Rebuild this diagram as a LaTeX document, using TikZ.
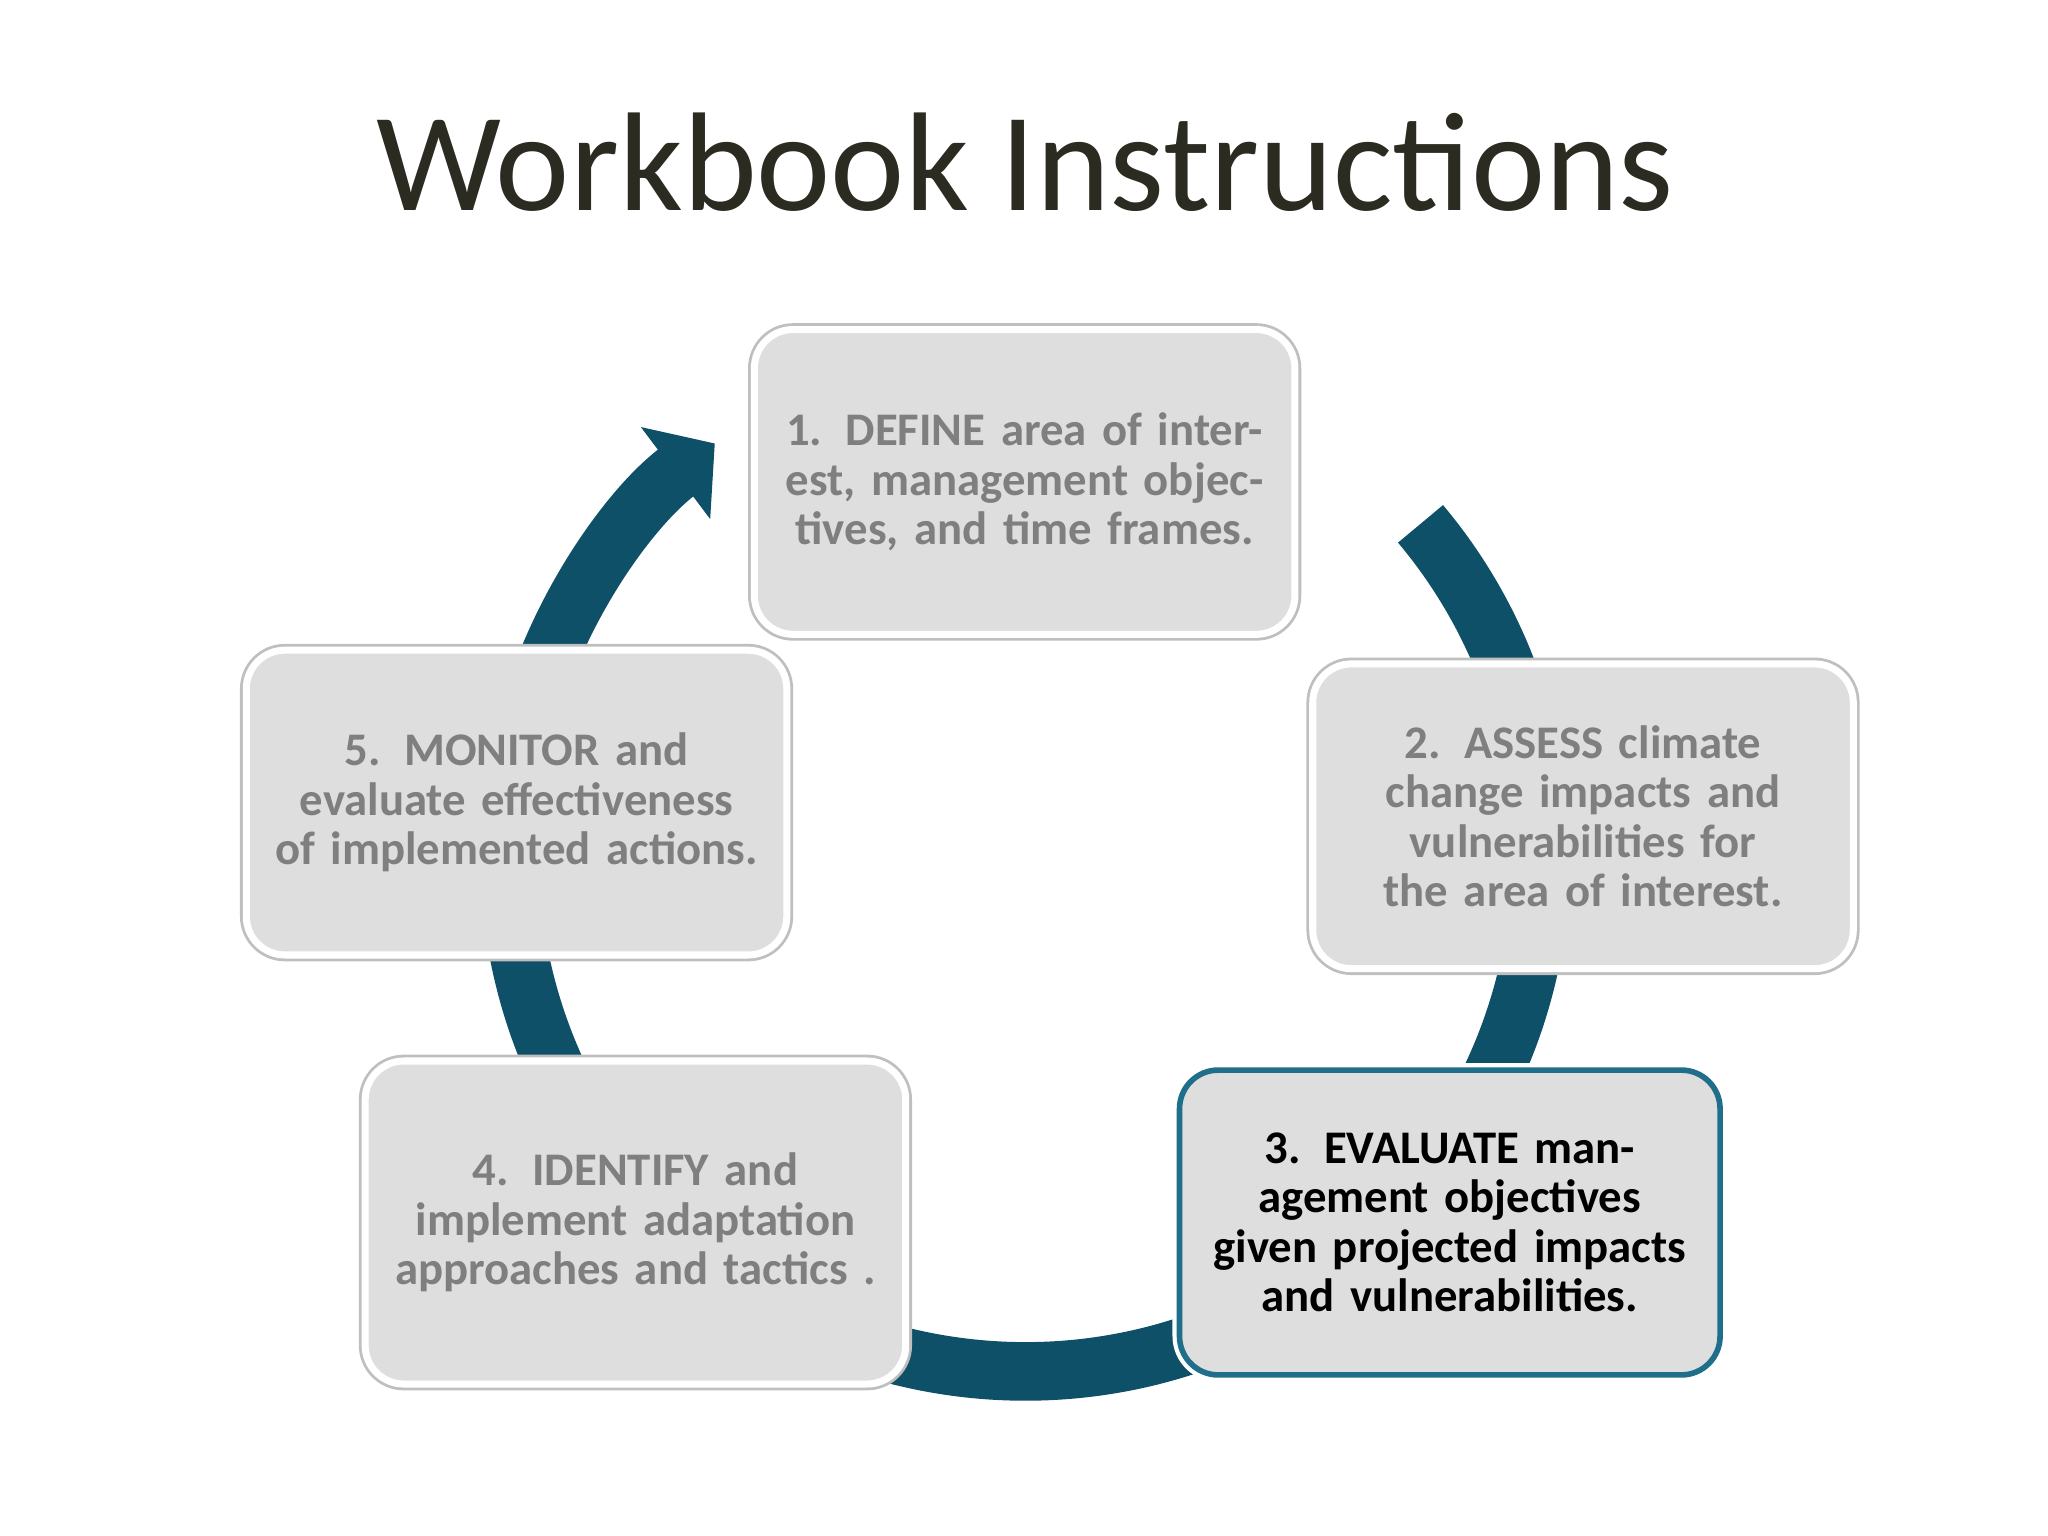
\documentclass[tikz,border=0pt]{standalone}
\usepackage{fontspec}
\setmainfont{Carlito}
\usetikzlibrary{arrows.meta}
\definecolor{ring}{HTML}{0D5068}
\definecolor{boxfill}{HTML}{DEDEDE}
\definecolor{boxtext}{HTML}{7F7F7F}
\definecolor{hl}{HTML}{1F6F8B}
\definecolor{title}{HTML}{2B2B22}
\tikzset{
 stagebox/.style={rounded corners=11pt, fill=boxfill, draw=white, line width=2pt,
   preaction={draw=black!25, line width=3.6pt},
   minimum width={415*0.3706pt}, minimum height={234*0.3706pt},
   text width={390*0.3706pt}, align=center, font=\fontsize{13.3}{14.1}\selectfont\bfseries, text=boxtext},
 hlbox/.style={stagebox, draw=hl, line width=1.6pt, preaction={draw=white, line width=4pt}, text=black}
}
\begin{document}
\begin{tikzpicture}[x=0.013061cm,y=0.013061cm]
\useasboundingbox (0,0) rectangle (1568,1176);
\node[font=\fontsize{40}{44}\selectfont, text=title] (t) at (785,1052) {Workbook Instructions};
\coordinate (c) at (785,521);
\draw[ring, line width={45*0.3706pt}, -{Triangle[length=14pt,width=32pt]}]
  ([shift={(40:395)}]c) arc[start angle=40, end angle=-233, radius=395];
\node[stagebox] (s1) at (784.5,807) {1. DEFINE area of interest, management objectives, and time frames.};
\node[stagebox] (s2) at (1212,551) {2. ASSESS climate change impacts and vulnerabilities for the area of interest.};
\node[hlbox] (s3) at (1110,240) {3. EVALUATE management objectives given projected impacts and vulnerabilities.};
\node[stagebox, minimum height={248*0.3706pt}] (s4) at (486.5,240) {4. IDENTIFY and implement adaptation approaches and tactics .};
\node[stagebox] (s5) at (395.5,561.5) {5. MONITOR and evaluate effectiveness of implemented actions.};
\end{tikzpicture}
\end{document}
